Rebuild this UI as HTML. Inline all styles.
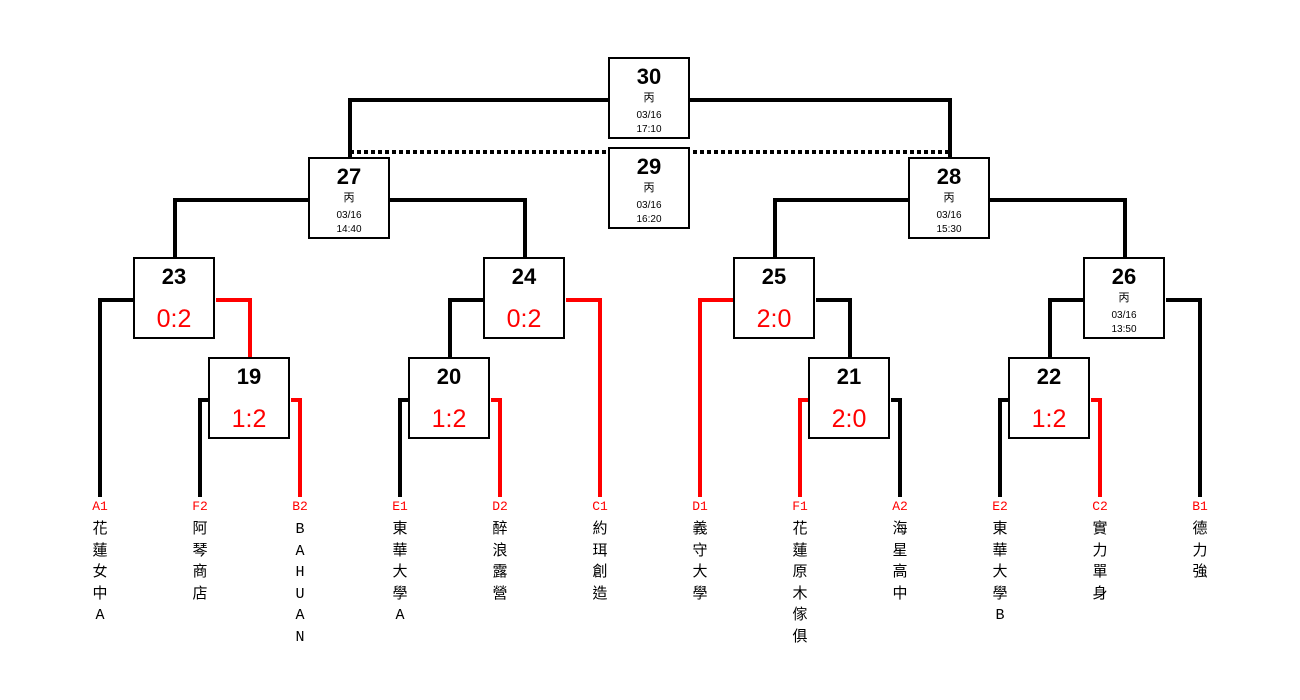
<!DOCTYPE html>
<html><head><meta charset="utf-8"><style>
body{margin:0;width:1300px;height:700px;background:#fff;position:relative;overflow:hidden;font-family:"Liberation Sans","Noto Sans CJK TC",sans-serif}
.b{position:absolute;width:78px;height:78px;border:2px solid #000;background:#fff;text-align:center}
.n{position:absolute;left:0;right:0;top:6px;font-size:22px;font-weight:bold;line-height:24px}
.c{position:absolute;left:0;right:0;top:33px;font-size:11px;line-height:13px}
.d{position:absolute;left:0;right:0;top:50px;font-size:10px;line-height:14px}
.s{position:absolute;left:0;right:0;top:46px;font-size:25px;color:#f00;line-height:28px}
.l{position:absolute;width:40px;margin-left:-20px;text-align:center;font-family:"Liberation Mono","Noto Sans CJK TC",monospace;font-size:15px;line-height:21.5px;top:498px}
.l span{color:#f00;font-size:13px;display:block;line-height:18px;margin-bottom:3px}
svg{position:absolute;left:0;top:0}
</style></head><body>
<svg width="1300" height="700">
<g fill="none" stroke-width="4" stroke="#000">
<polyline points="350,158 350,100 950,100 950,158"/>
<line x1="350" y1="152" x2="950" y2="152" stroke-dasharray="4,3"/>
<polyline points="175,258 175,200 525,200 525,258"/>
<polyline points="775,258 775,200 1125,200 1125,258"/>
<polyline points="134,300 100,300 100,497"/>
<polyline points="209,400 200,400 200,497"/>
<polyline points="484,300 450,300 450,358"/>
<polyline points="409,400 400,400 400,497"/>
<polyline points="816,300 850,300 850,358"/>
<polyline points="891,400 900,400 900,497"/>
<polyline points="1084,300 1050,300 1050,358"/>
<polyline points="1166,300 1200,300 1200,497"/>
<polyline points="1009,400 1000,400 1000,497"/>
</g>
<g fill="none" stroke-width="4" stroke="#f00">
<polyline points="216,300 250,300 250,358"/>
<polyline points="291,400 300,400 300,497"/>
<polyline points="566,300 600,300 600,497"/>
<polyline points="491,400 500,400 500,497"/>
<polyline points="734,300 700,300 700,497"/>
<polyline points="809,400 800,400 800,497"/>
<polyline points="1091,400 1100,400 1100,497"/>
</g>
</svg>
<div class="b" style="left:608px;top:57px"><div class="n">30</div><div class="c">丙</div><div class="d">03/16<br>17:10</div></div>
<div class="b" style="left:608px;top:147px"><div class="n">29</div><div class="c">丙</div><div class="d">03/16<br>16:20</div></div>
<div class="b" style="left:308px;top:157px"><div class="n">27</div><div class="c">丙</div><div class="d">03/16<br>14:40</div></div>
<div class="b" style="left:908px;top:157px"><div class="n">28</div><div class="c">丙</div><div class="d">03/16<br>15:30</div></div>
<div class="b" style="left:1083px;top:257px"><div class="n">26</div><div class="c">丙</div><div class="d">03/16<br>13:50</div></div>
<div class="b" style="left:133px;top:257px"><div class="n">23</div><div class="s">0:2</div></div>
<div class="b" style="left:483px;top:257px"><div class="n">24</div><div class="s">0:2</div></div>
<div class="b" style="left:733px;top:257px"><div class="n">25</div><div class="s">2:0</div></div>
<div class="b" style="left:208px;top:357px"><div class="n">19</div><div class="s">1:2</div></div>
<div class="b" style="left:408px;top:357px"><div class="n">20</div><div class="s">1:2</div></div>
<div class="b" style="left:808px;top:357px"><div class="n">21</div><div class="s">2:0</div></div>
<div class="b" style="left:1008px;top:357px"><div class="n">22</div><div class="s">1:2</div></div>
<div class="l" style="left:100px"><span>A1</span>花<br>蓮<br>女<br>中<br>A</div>
<div class="l" style="left:200px"><span>F2</span>阿<br>琴<br>商<br>店</div>
<div class="l" style="left:300px"><span>B2</span>B<br>A<br>H<br>U<br>A<br>N</div>
<div class="l" style="left:400px"><span>E1</span>東<br>華<br>大<br>學<br>A</div>
<div class="l" style="left:500px"><span>D2</span>醉<br>浪<br>露<br>營</div>
<div class="l" style="left:600px"><span>C1</span>約<br>珥<br>創<br>造</div>
<div class="l" style="left:700px"><span>D1</span>義<br>守<br>大<br>學</div>
<div class="l" style="left:800px"><span>F1</span>花<br>蓮<br>原<br>木<br>傢<br>俱</div>
<div class="l" style="left:900px"><span>A2</span>海<br>星<br>高<br>中</div>
<div class="l" style="left:1000px"><span>E2</span>東<br>華<br>大<br>學<br>B</div>
<div class="l" style="left:1100px"><span>C2</span>實<br>力<br>單<br>身</div>
<div class="l" style="left:1200px"><span>B1</span>德<br>力<br>強</div>
</body></html>
